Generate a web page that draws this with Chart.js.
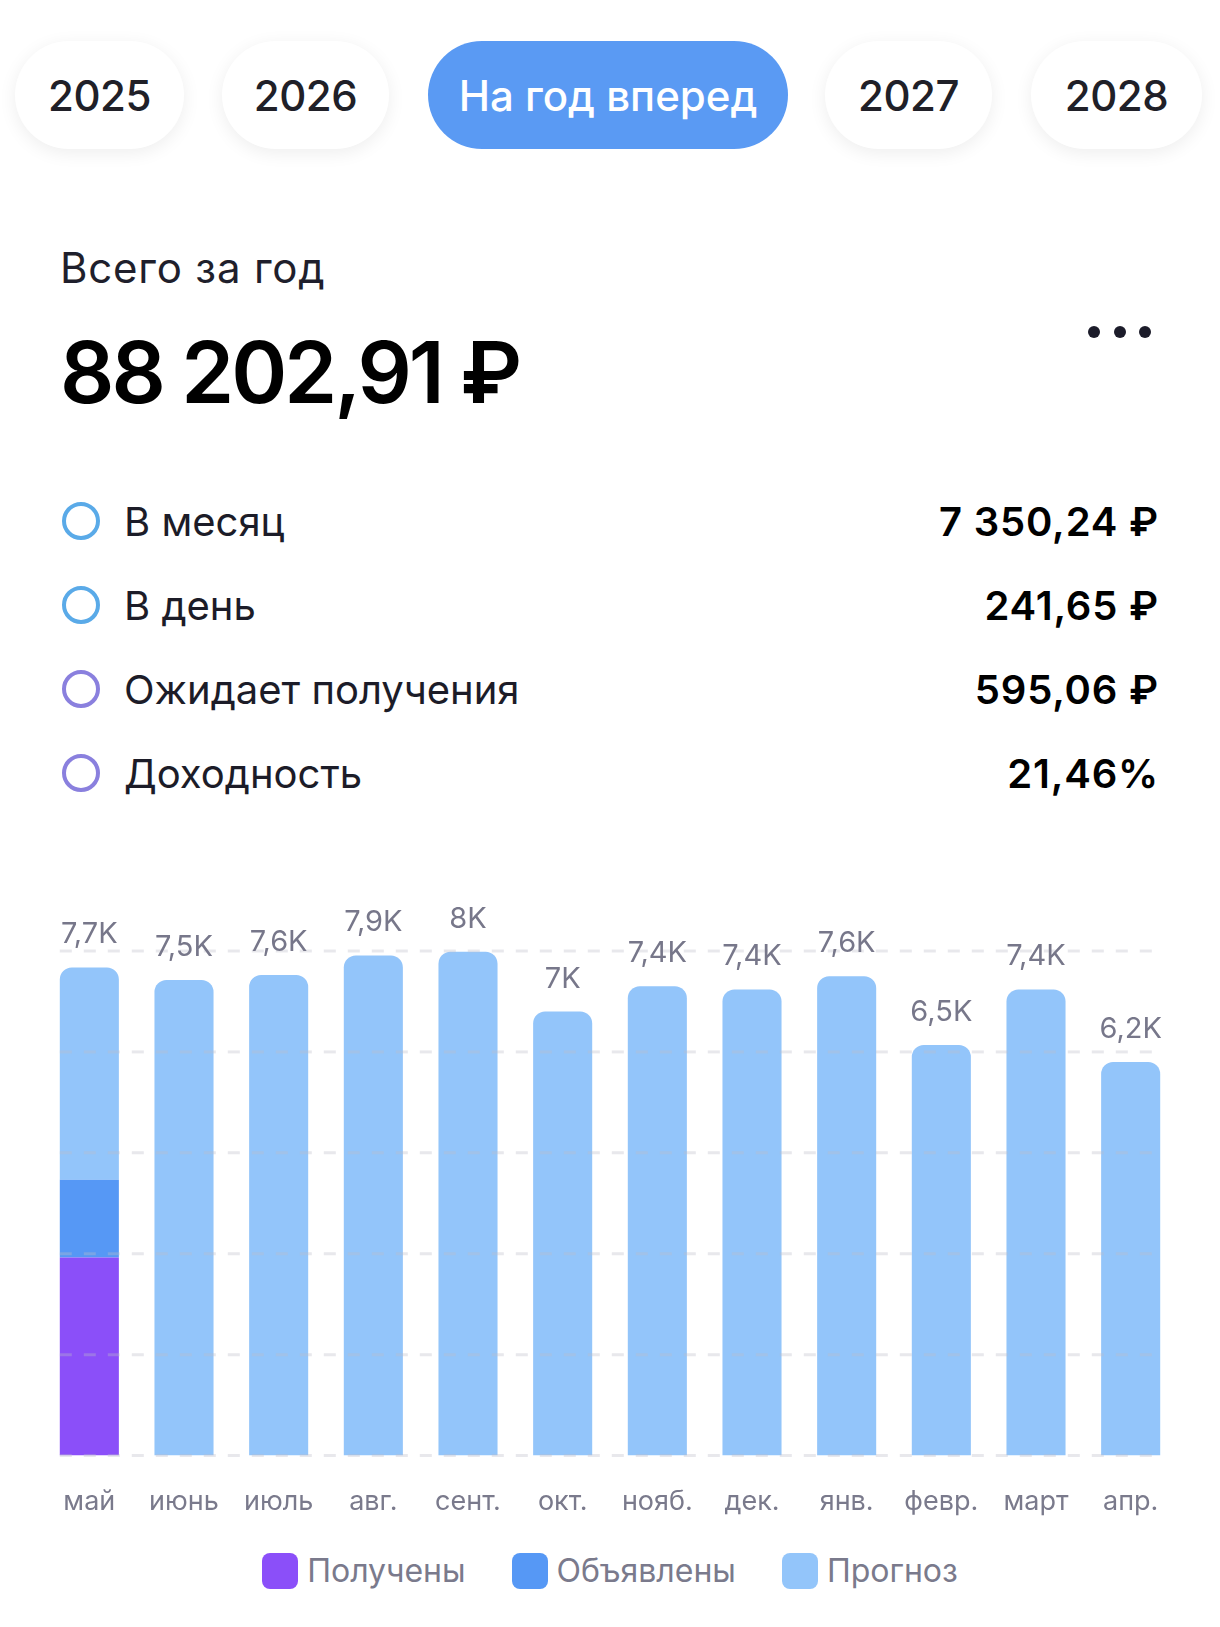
<!DOCTYPE html>
<html lang="ru">
<head>
<meta charset="utf-8">
<title>Дивиденды на год вперед</title>
<script src="https://cdn.jsdelivr.net/npm/chart.js@4.4.1/dist/chart.umd.min.js"></script>
<style>
  html, body { margin: 0; padding: 0; background: #fff; }
  body { width: 1220px; height: 1627px; position: relative; overflow: hidden;
         font-family: Inter, Roboto, "Noto Sans", sans-serif; color: #1c1c24; }
  .tab { position: absolute; top: 41px; height: 108px; border-radius: 54px; background: #fff;
         box-shadow: 0 4px 18px rgba(0,0,0,0.07); display: flex; align-items: center; justify-content: center;
         font-size: 42px; font-weight: 500; color: #202028; letter-spacing: -0.5px; }
  .tab.active { background: #5a9af3; color: #fff; box-shadow: none; letter-spacing: 0; }
  .abs { position: absolute; white-space: nowrap; line-height: 1; }
  .ring { position: absolute; width: 30px; height: 30px; border-radius: 50%; border: 4px solid #5aaae8; }
  .ring.violet { border-color: #8a80de; }
  .dot { position: absolute; width: 12px; height: 12px; border-radius: 50%; background: #1c1c2a; top: 326px; }
  #wrap { position: absolute; left: 0; top: 850px; width: 1220px; height: 698px; }
  #legend { position: absolute; left: 0; top: 1553px; width: 1220px; height: 36px;
            display: flex; justify-content: center; align-items: center; }
  #legend .item { display: flex; align-items: center; margin: 0 23px; }
  #legend .box { width: 36px; height: 36px; border-radius: 8px; margin-right: 9px; }
  #legend .txt { font-size: 32px; color: #7a7a8c; line-height: 1; }
</style>
</head>
<body>
<div class="tab" style="left:15px;width:169px">2025</div>
<div class="tab" style="left:222px;width:167px">2026</div>
<div class="tab active" style="left:428px;width:360px">На год вперед</div>
<div class="tab" style="left:825px;width:167px">2027</div>
<div class="tab" style="left:1031px;width:171px">2028</div>

<div class="abs" style="left:60px;top:247px;font-size:42px;color:#1f1f2c;letter-spacing:0.8px">Всего за год</div>
<div class="abs" style="left:60px;top:330px;font-size:85px;font-weight:600;color:#000;letter-spacing:-3px">88 202,91 ₽</div>
<div class="dot" style="left:1088px"></div>
<div class="dot" style="left:1114px"></div>
<div class="dot" style="left:1139px"></div>

<div id="rows"></div>

<div id="wrap"><canvas id="myChart"></canvas></div>
<div id="legend"></div>

<script>
// сводка
var rowLabels = ['В месяц', 'В день', 'Ожидает получения', 'Доходность'];
var rowValues = ['7 350,24 ₽', '241,65 ₽', '595,06 ₽', '21,46%'];

// помесячно
var months = ['май', 'июнь', 'июль', 'авг.', 'сент.', 'окт.', 'нояб.', 'дек.', 'янв.', 'февр.', 'март', 'апр.'];
var received = [3140, 0, 0, 0, 0, 0, 0, 0, 0, 0, 0, 0];
var announced = [1235, 0, 0, 0, 0, 0, 0, 0, 0, 0, 0, 0];
var forecast = [3365, 7540, 7620, 7930, 7990, 7040, 7440, 7390, 7600, 6510, 7390, 6240];

var rows = document.getElementById('rows');
rowLabels.forEach(function(label, i) {
  var base = 537 + i * 84;
  rows.insertAdjacentHTML('beforeend',
    '<div class="ring' + (i > 1 ? ' violet' : '') + '" style="left:62px;top:' + (base - 35) + 'px"></div>' +
    '<div class="abs" style="left:124px;top:' + (base - 35) + 'px;font-size:40px;color:#1c1c28">' + label + '</div>' +
    '<div class="abs" style="right:61px;top:' + (base - 35) + 'px;font-size:40px;font-weight:600;color:#000;letter-spacing:0.8px">' + rowValues[i] + '</div>');
});

function fmtK(v) {
  var s = (Math.round(v / 100) / 10).toFixed(1).replace('.', ',');
  return s.replace(/,0$/, '') + 'K';
}

// пунктирная сетка от первого до последнего столбца, поверх столбцов
var dashedGrid = {
  id: 'dashedGrid',
  afterDatasetsDraw: function(chart) {
    var ctx = chart.ctx;
    var y = chart.scales.y;
    var bars = chart.getDatasetMeta(2).data;
    var first = bars[0], last = bars[bars.length - 1];
    var x0 = first.x - first.width / 2;
    var x1 = last.x + last.width / 2 - 6;
    ctx.save();
    ctx.strokeStyle = 'rgba(190,190,200,0.35)';
    ctx.lineWidth = 3;
    ctx.setLineDash([12, 12]);
    y.ticks.forEach(function(t) {
      var py = y.getPixelForValue(t.value);
      ctx.beginPath();
      ctx.moveTo(x0, py);
      ctx.lineTo(x1, py);
      ctx.stroke();
    });
    ctx.restore();
  }
};

// подписи сумм над столбцами
var totalLabels = {
  id: 'totalLabels',
  afterDatasetsDraw: function(chart) {
    var ctx = chart.ctx;
    var top = chart.getDatasetMeta(2).data;
    ctx.save();
    ctx.font = '29px Inter, Roboto, sans-serif';
    ctx.fillStyle = '#77778a';
    ctx.textAlign = 'center';
    ctx.textBaseline = 'alphabetic';
    months.forEach(function(m, i) {
      var total = received[i] + announced[i] + forecast[i];
      ctx.fillText(fmtK(total), top[i].x, top[i].y - 24);
    });
    ctx.restore();
  }
};

// легенда в html
var htmlLegend = {
  id: 'htmlLegend',
  afterUpdate: function(chart) {
    var box = document.getElementById('legend');
    var items = chart.options.plugins.legend.labels.generateLabels(chart);
    box.innerHTML = '';
    items.forEach(function(item) {
      box.insertAdjacentHTML('beforeend',
        '<div class="item"><span class="box" style="background:' + item.fillStyle + '"></span>' +
        '<span class="txt">' + item.text + '</span></div>');
    });
  }
};

Chart.defaults.font.family = 'Inter, Roboto, sans-serif';

var ctx = document.getElementById('myChart');
var myChart = new Chart(ctx, {
  type: 'bar',
  data: {
    labels: months,
    datasets: [
      { label: 'Получены', data: received, backgroundColor: '#8b4ff9', borderRadius: 0 },
      { label: 'Объявлены', data: announced, backgroundColor: '#5698f5', borderRadius: 0 },
      { label: 'Прогноз', data: forecast, backgroundColor: '#93c5fa',
        borderRadius: { topLeft: 12, topRight: 12, bottomLeft: 0, bottomRight: 0 }, borderSkipped: false }
    ]
  },
  options: {
    responsive: true,
    maintainAspectRatio: false,
    animation: false,
    events: [],
    layout: { padding: { left: 42, right: 42, top: 101, bottom: 0 } },
    datasets: { bar: { categoryPercentage: 1, barPercentage: 0.624 } },
    plugins: {
      tooltip: { enabled: false },
      legend: { display: false }
    },
    scales: {
      x: {
        stacked: true,
        grid: { display: false, drawTicks: false },
        border: { display: false },
        ticks: { color: '#7a7a8c', font: { size: 27 }, padding: 30, maxRotation: 0, autoSkip: false }
      },
      y: {
        stacked: true,
        min: 0,
        max: 8000,
        afterFit: function(s) { s.width = 0; },
        ticks: { display: false, stepSize: 1600 },
        grid: { display: false, drawTicks: false },
        border: { display: false }
      }
    }
  },
  plugins: [dashedGrid, totalLabels, htmlLegend]
});
</script>
</body>
</html>
